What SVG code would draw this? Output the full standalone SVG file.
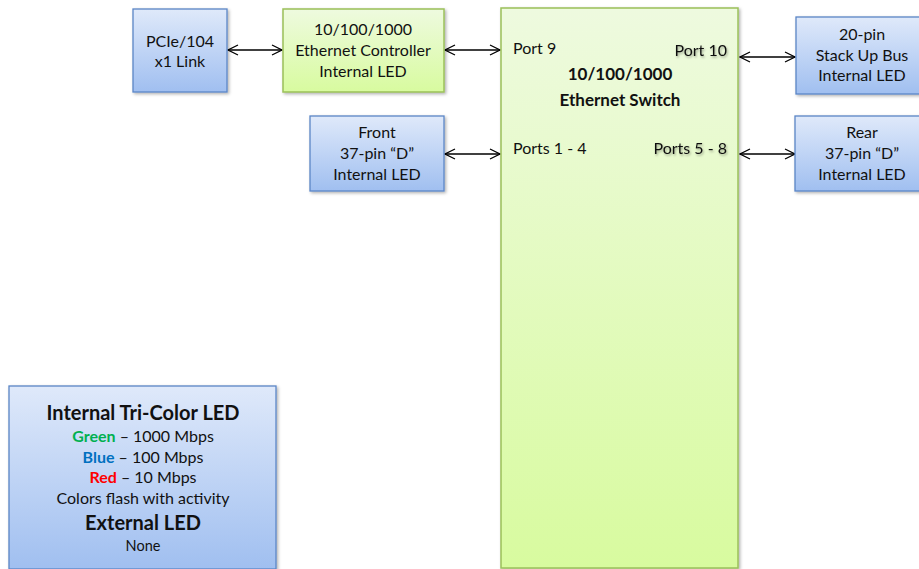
<svg xmlns="http://www.w3.org/2000/svg" width="919" height="569" viewBox="0 0 919 569">
<style>
text{font-family:Lato,"Open Sans","Liberation Sans",sans-serif;fill:#111;text-anchor:middle}
.t{font-size:16px}
.b{font-weight:bold}
.blue{fill:url(#gb);stroke:#5b86c6;stroke-width:1.3}
.green{fill:url(#gg);stroke:#9bc05a;stroke-width:1.5}
.c{stroke:#000;stroke-width:1.3;fill:none;marker-start:url(#ah);marker-end:url(#ah)}
.l{text-anchor:start}
.r{text-anchor:end}
</style>
<defs>
<linearGradient id="gb" x1="0" y1="0" x2="0" y2="1"><stop offset="0" stop-color="#dfe9fa"/><stop offset="1" stop-color="#a0bff0"/></linearGradient>
<linearGradient id="gg" x1="0" y1="0" x2="0" y2="1"><stop offset="0" stop-color="#eefadf"/><stop offset="1" stop-color="#d8fb9f"/></linearGradient>
<filter id="sh" x="-10%" y="-10%" width="130%" height="130%"><feDropShadow dx="1.5" dy="1.5" stdDeviation="1.5" flood-color="#000" flood-opacity="0.3"/></filter>
<filter id="ts" x="-10%" y="-30%" width="130%" height="180%"><feDropShadow dx="1" dy="1.5" stdDeviation="1.2" flood-color="#000" flood-opacity="0.35"/></filter>
<marker id="ah" viewBox="0 0 12 12" refX="11" refY="6" markerWidth="12" markerHeight="12" markerUnits="userSpaceOnUse" orient="auto-start-reverse"><path d="M1,1 L11,6 L1,11" fill="none" stroke="#000" stroke-width="1.3"/></marker>
</defs>
<g id="connectors">
<line class="c" x1="228" y1="50" x2="282" y2="50"/>
<line class="c" x1="445" y1="50" x2="500" y2="50"/>
<line class="c" x1="445" y1="154" x2="500" y2="154"/>
<line class="c" x1="740" y1="57" x2="795" y2="57"/>
<line class="c" x1="740" y1="154" x2="795" y2="154"/>
</g>
<g id="switch">
<rect class="green" x="501" y="8" width="237" height="560" filter="url(#sh)"/>
<text class="t l" x="513" y="54">Port 9</text>
<text class="t r" x="727" y="56" filter="url(#ts)">Port 10</text>
<text class="b" x="620" y="80" style="font-size:17px">10/100/1000</text>
<text class="b" x="620" y="106" style="font-size:17px">Ethernet Switch</text>
<text class="t l" x="513" y="154">Ports 1 - 4</text>
<text class="t r" x="727" y="154" filter="url(#ts)">Ports 5 - 8</text>
</g>
<g id="pcie">
<rect class="blue" x="133" y="9" width="94" height="83" filter="url(#sh)"/>
<text class="t" x="180" y="47">PCIe/104</text>
<text class="t" x="180" y="67">x1 Link</text>
</g>
<g id="controller">
<rect class="green" x="283" y="9" width="161" height="83" filter="url(#sh)"/>
<text class="t" x="363" y="35">10/100/1000</text>
<text class="t" x="363" y="56">Ethernet Controller</text>
<text class="t" x="363" y="77">Internal LED</text>
</g>
<g id="front">
<rect class="blue" x="310" y="116" width="134" height="75" filter="url(#sh)"/>
<text class="t" x="377" y="138">Front</text>
<text class="t" x="377" y="159">37-pin “D”</text>
<text class="t" x="377" y="180">Internal LED</text>
</g>
<g id="stackup">
<rect class="blue" x="796" y="17" width="130" height="77" filter="url(#sh)"/>
<text class="t" x="862" y="40">20-pin</text>
<text class="t" x="862" y="61">Stack Up Bus</text>
<text class="t" x="862" y="81">Internal LED</text>
</g>
<g id="rear">
<rect class="blue" x="795" y="116" width="131" height="75" filter="url(#sh)"/>
<text class="t" x="862" y="138">Rear</text>
<text class="t" x="862" y="159">37-pin “D”</text>
<text class="t" x="862" y="180">Internal LED</text>
</g>
<g id="legend">
<rect class="blue" x="9" y="386" width="267" height="183" filter="url(#sh)"/>
<text class="b" x="143" y="420" style="font-size:20px">Internal Tri-Color LED</text>
<text class="t" x="143" y="442"><tspan class="b" style="fill:#00b050">Green</tspan> – 1000 Mbps</text>
<text class="t" x="143" y="463"><tspan class="b" style="fill:#0070c0">Blue</tspan> – 100 Mbps</text>
<text class="t" x="143" y="483"><tspan class="b" style="fill:#ff0000">Red</tspan> – 10 Mbps</text>
<text class="t" x="143" y="504">Colors flash with activity</text>
<text class="b" x="143" y="530" style="font-size:20px">External LED</text>
<text x="143" y="551" style="font-size:14.5px">None</text>
</g>
</svg>
